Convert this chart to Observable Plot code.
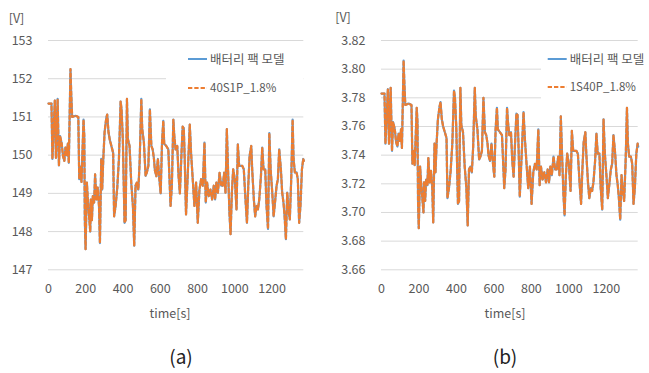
<!DOCTYPE html>
<html><head><meta charset="utf-8">
<script src="https://cdn.jsdelivr.net/npm/d3@7"></script>
<script src="https://cdn.jsdelivr.net/npm/@observablehq/plot@0.6"></script>
<style>
body{margin:0;background:#fff;}
#wrap{position:relative;width:649px;height:373px;font-family:"Noto Sans CJK KR","Noto Sans",sans-serif;color:#595959;overflow:hidden;background:#fff}
.abs{position:absolute;white-space:nowrap;line-height:1}
.panel{position:absolute;top:0}
</style></head><body><div id="wrap"></div>
<script>
// time [s]
const time = [0,16,21,34,40,49,56,62,71,78,85,91,98,104,109,118,122,127,145,160,165,172,177,188,192,195,199,206,211,218,224,227,233,238,245,250,257,264,271,276,283,288,294,301,310,315,322,329,338,347,352,360,369,378,387,392,399,408,414,421,426,435,444,453,460,467,474,482,489,498,503,512,521,528,536,544,552,559,566,571,579,587,595,602,609,616,621,632,643,648,655,662,670,675,682,691,698,705,713,720,726,731,738,747,758,765,774,783,792,801,810,819,828,837,844,851,860,869,878,887,894,901,909,918,927,935,943,950,957,964,971,977,984,991,1000,1009,1016,1023,1031,1040,1048,1057,1065,1072,1079,1088,1093,1102,1109,1117,1124,1131,1140,1147,1154,1163,1170,1178,1185,1192,1201,1208,1217,1224,1231,1238,1247,1254,1261,1267,1274,1281,1288,1295,1303,1310,1315,1322,1331,1338,1345,1352,1360,1367,1370];
// (a) pack voltage [V]
const packVoltage = [151.35,151.35,149.9,151.43,149.93,151.47,149.73,150.5,150.3,149.97,149.85,150.2,150.0,150.3,149.8,152.25,151.6,151.0,151.03,151.0,149.37,149.7,149.3,150.93,150.5,148.3,147.54,149.28,148.84,148.4,148.0,148.84,148.3,148.93,148.76,149.5,148.84,149.15,148.67,147.7,149.9,149.1,149.9,150.6,150.97,151.06,150.6,150.4,150.23,150.06,148.4,148.67,149.15,149.9,151.4,151.2,150.4,148.23,148.3,151.47,150.42,150.24,149.28,148.67,147.63,149.2,149.28,149.1,149.8,151.47,150.68,150.33,149.46,149.55,149.72,151.2,150.24,150.15,149.9,149.6,149.45,149.9,149.37,149.0,150.3,150.9,150.3,150.24,150.15,149.55,148.67,149.2,150.93,150.5,150.15,150.24,149.45,149.0,149.97,150.75,150.7,149.9,148.45,149.46,150.8,150.06,149.37,148.67,149.28,148.23,149.1,149.37,149.2,150.33,148.76,149.28,148.93,149.1,148.84,149.2,148.84,149.28,149.02,149.54,149.2,149.2,149.54,149.02,150.68,149.54,148.5,147.93,149.02,149.63,149.37,148.58,150.28,149.72,149.72,149.72,149.63,148.84,148.23,149.2,149.97,150.24,149.63,148.84,148.4,148.67,148.58,148.84,149.45,150.2,149.63,149.63,148.67,148.07,150.58,149.63,149.0,148.4,148.84,149.2,149.37,150.15,149.63,149.02,148.76,148.4,147.8,149.02,148.58,148.32,149.45,150.93,149.9,149.55,149.55,149.37,148.23,148.67,149.63,149.9,149.85];
// (b) cell voltage [V]
const cellVoltage = [3.783,3.783,3.748,3.786,3.748,3.787,3.743,3.763,3.758,3.749,3.746,3.755,3.750,3.758,3.745,3.806,3.790,3.775,3.776,3.775,3.734,3.743,3.733,3.773,3.763,3.708,3.689,3.732,3.721,3.710,3.700,3.721,3.708,3.723,3.719,3.738,3.721,3.729,3.717,3.693,3.748,3.728,3.748,3.765,3.774,3.777,3.765,3.760,3.756,3.752,3.710,3.717,3.729,3.748,3.785,3.780,3.760,3.706,3.708,3.787,3.761,3.756,3.732,3.717,3.691,3.730,3.732,3.728,3.745,3.787,3.767,3.758,3.737,3.739,3.743,3.780,3.756,3.754,3.748,3.740,3.736,3.748,3.734,3.725,3.758,3.773,3.758,3.756,3.754,3.739,3.717,3.730,3.773,3.763,3.754,3.756,3.736,3.725,3.749,3.769,3.768,3.748,3.711,3.737,3.770,3.752,3.734,3.717,3.732,3.706,3.728,3.734,3.730,3.758,3.719,3.732,3.723,3.728,3.721,3.730,3.721,3.732,3.726,3.739,3.730,3.730,3.739,3.726,3.767,3.739,3.713,3.698,3.726,3.741,3.734,3.715,3.757,3.743,3.743,3.743,3.741,3.721,3.706,3.730,3.749,3.756,3.741,3.721,3.710,3.717,3.715,3.721,3.736,3.755,3.741,3.741,3.717,3.702,3.765,3.741,3.725,3.710,3.721,3.730,3.734,3.754,3.741,3.726,3.719,3.710,3.695,3.726,3.715,3.708,3.736,3.773,3.748,3.739,3.739,3.734,3.706,3.717,3.741,3.748,3.746];

const packTicks = [147,148,149,150,151,152,153];
const cellTicks = [3.66,3.68,3.70,3.72,3.74,3.76,3.78,3.80,3.82];
const timeTicks = [0,200,400,600,800,1000,1200];
const legendA = ["배터리 팩 모델","40S1P_1.8%"];
const legendB = ["배터리 팩 모델","1S40P_1.8%"];
const panelLabels = ["(a)","(b)"];
const unitLabel = "[V]";
const xLabel = "time[s]";

const FONT = '"Noto Sans CJK KR","Noto Sans",sans-serif';
const BLUE = "#5B9BD5", ORANGE = "#ED7D31", GRID = "#d9d9d9", TXT = "#595959";
const DASH = "3.5,2.5";

function panel(values, yDomain, yTicks, fmt, width, ml, mr) {
  const data = time.map((t, i) => ({t, v: values[i]}));
  return Plot.plot({
    width, height: 300,
    marginLeft: ml, marginRight: mr, marginTop: 40, marginBottom: 30.7,
    style: {fontFamily: FONT, fontSize: "12.5px", color: TXT, background: "transparent", overflow: "visible"},
    x: {domain: [0, 1370]},
    y: {domain: yDomain},
    marks: [
      Plot.gridY(yTicks, {stroke: GRID, strokeOpacity: 1, strokeWidth: 1}),
      Plot.axisY(yTicks, {tickSize: 0, tickPadding: 16, tickFormat: fmt, label: null, fill: TXT}),
      Plot.axisX(timeTicks, {tickSize: 0, tickPadding: 14, tickFormat: d3.format("d"), label: null, fill: TXT}),
      Plot.line(data, {x: "t", y: "v", stroke: BLUE, strokeWidth: 2.2}),
      Plot.line(data, {x: "t", y: "v", stroke: ORANGE, strokeWidth: 2.2, strokeDasharray: DASH})
    ]
  });
}

const wrap = document.getElementById("wrap");
const pa = panel(packVoltage, [147, 153], packTicks, d3.format("d"), 320, 48, 16.7);
pa.classList.add("panel"); pa.style.left = "0px";
wrap.appendChild(pa);
const pb = panel(cellVoltage, [3.66, 3.82], cellTicks, d3.format(".2f"), 324, 56, 11.3);
pb.classList.add("panel"); pb.style.left = "325px";
wrap.appendChild(pb);

function text(str, cx, cy, size, color, anchor) {
  const d = document.createElement("div");
  d.className = "abs";
  d.textContent = str;
  d.style.fontSize = size + "px";
  d.style.color = color;
  d.style.top = (cy - size / 2) + "px";
  if (anchor === "start") d.style.left = cx + "px";
  else { d.style.left = cx + "px"; d.style.transform = "translateX(-50%)"; }
  wrap.appendChild(d);
  return d;
}

text(unitLabel, 16.5, 18, 12.5, TXT);
text(unitLabel, 343, 17.5, 12.5, TXT);
text(xLabel, 170, 313, 12.5, TXT);
text(xLabel, 505, 313, 12.5, TXT);
text(panelLabels[0], 181, 355, 19, "#222");
text(panelLabels[1], 505, 355, 19, "#222");

function legend(names, boxX, boxY, boxW, boxH, lx, y1, y2) {
  const box = document.createElement("div");
  box.className = "abs";
  Object.assign(box.style, {left: boxX + "px", top: boxY + "px", width: boxW + "px", height: boxH + "px", background: "#fff"});
  wrap.appendChild(box);
  const ns = "http://www.w3.org/2000/svg";
  const svg = document.createElementNS(ns, "svg");
  svg.setAttribute("width", 649); svg.setAttribute("height", 373);
  svg.style.position = "absolute"; svg.style.left = "0"; svg.style.top = "0";
  [[y1, BLUE, null], [y2, ORANGE, "4.3,2"]].forEach(([y, c, dash]) => {
    const l = document.createElementNS(ns, "line");
    l.setAttribute("x1", lx); l.setAttribute("x2", lx + 19);
    l.setAttribute("y1", y); l.setAttribute("y2", y);
    l.setAttribute("stroke", c); l.setAttribute("stroke-width", 2);
    if (dash) l.setAttribute("stroke-dasharray", dash);
    svg.appendChild(l);
  });
  wrap.appendChild(svg);
  text(names[0], lx + 22, y1, 12.5, TXT, "start");
  text(names[1], lx + 22, y2, 11.5, TXT, "start");
}
legend(legendA, 166, 47, 137, 53, 188, 59, 88);
legend(legendB, 541, 49, 108, 52, 547.7, 59, 87);
</script></body></html>
